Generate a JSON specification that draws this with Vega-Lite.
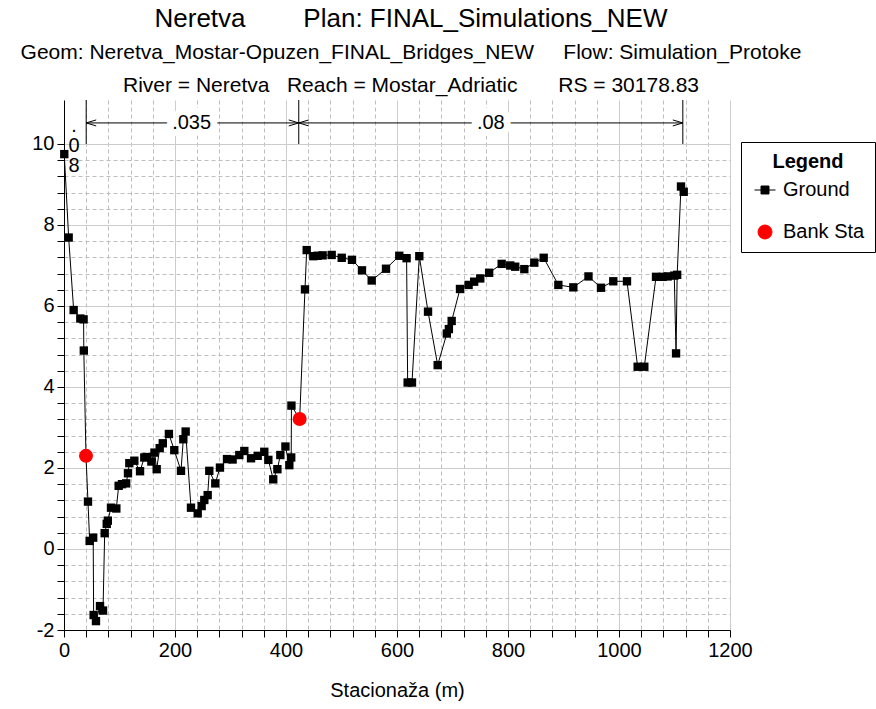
{
  "$schema": "https://vega.github.io/schema/vega-lite/v6.json",
  "padding": {"left": 20, "top": 5, "right": 5, "bottom": 5},
  "autosize": {"type": "pad"},
  "width": 666,
  "height": 530,
  "config": {"font": "Liberation Sans", "view": {"stroke": null}},
  "title": {
    "text": "Neretva\u00a0\u00a0\u00a0\u00a0\u00a0\u00a0\u00a0 Plan: FINAL_Simulations_NEW",
    "subtitle": [
      "Geom: Neretva_Mostar-Opuzen_FINAL_Bridges_NEW\u00a0\u00a0\u00a0\u00a0 Flow: Simulation_Protoke",
      "River = Neretva\u00a0\u00a0 Reach = Mostar_Adriatic\u00a0\u00a0\u00a0\u00a0\u00a0\u00a0 RS = 30178.83"
    ],
    "anchor": "middle",
    "font": "Liberation Sans",
    "subtitleFont": "Liberation Sans",
    "fontSize": 26,
    "fontWeight": "normal",
    "subtitleFontSize": 21,
    "subtitleLineHeight": 33,
    "subtitlePadding": 10,
    "offset": 4,
    "color": "black",
    "subtitleColor": "black",
    "dx": 14
  },
  "layer": [
    {
      "mark": {"type": "rect", "fill": "white", "stroke": null},
      "encoding": {
        "x": {"datum": 1.5, "type": "quantitative",
              "scale": {"domain": [0, 1200], "nice": false, "zero": false},
              "axis": {
                "values": [0,40,80,120,160,200,240,280,320,360,400,440,480,520,560,600,640,680,720,760,800,840,880,920,960,1000,1040,1080,1120,1160,1200],
                "tickCount": 1000,
                "labelExpr": "datum.value % 200 === 0 ? '' + datum.value : ''",
                "labelFlush": false, "labelOverlap": false,
                "grid": true,
                "gridColor": {"condition": {"test": "datum.value % 200 === 0", "value": "#cccccc"}, "value": "#bdbdbd"},
                "gridDash": {"condition": {"test": "datum.value % 200 === 0", "value": []}, "value": [4, 3]},
                "gridWidth": 1,
                "tickSize": 7,
                "tickColor": "black",
                "domainColor": "black",
                "labelFontSize": 20, "labelColor": "black", "labelPadding": 3,
                "title": "Stacionaža (m)", "titleFontSize": 20, "titleFontWeight": "normal", "titleColor": "black", "titlePadding": 20
              }},
        "x2": {"datum": 1200},
        "y": {"datum": 10, "type": "quantitative",
              "scale": {"domain": [-2, 11.086], "nice": false, "zero": false},
              "axis": {
                "values": [-2,-1.6,-1.2,-0.8,-0.4,0,0.4,0.8,1.2,1.6,2,2.4,2.8,3.2,3.6,4,4.4,4.8,5.2,5.6,6,6.4,6.8,7.2,7.6,8,8.4,8.8,9.2,9.6,10],
                "tickCount": 1000,
                "labelExpr": "abs(datum.value/2 - round(datum.value/2)) < 0.01 ? '' + datum.value : ''",
                "labelFlush": false, "labelOverlap": false,
                "grid": true,
                "gridColor": {"condition": {"test": "abs(datum.value/2 - round(datum.value/2)) < 0.01", "value": "#cccccc"}, "value": "#bdbdbd"},
                "gridDash": {"condition": {"test": "abs(datum.value/2 - round(datum.value/2)) < 0.01", "value": []}, "value": [4, 3]},
                "tickSize": 7,
                "tickColor": "black",
                "domainColor": "black",
                "labelFontSize": 20, "labelColor": "black", "labelPadding": 3,
                "title": null
              }},
        "y2": {"datum": 11.086}
      }
    },
    {
      "mark": {"type": "rule", "color": "#555555", "strokeWidth": 1},
      "encoding": {
        "x": {"datum": 0, "type": "quantitative"},
        "x2": {"datum": 1200},
        "y": {"datum": 10, "type": "quantitative"}
      }
    },
    {
      "mark": {"type": "rule", "color": "#555555", "strokeWidth": 1},
      "encoding": {
        "x": {"datum": 1200, "type": "quantitative"},
        "y": {"datum": -2, "type": "quantitative"},
        "y2": {"datum": 10}
      }
    },
    {
      "data": {"values": [{"s": 40}, {"s": 423}, {"s": 1115}]},
      "mark": {"type": "rule", "color": "black", "strokeWidth": 1},
      "encoding": {
        "x": {"field": "s", "type": "quantitative"},
        "y": {"datum": 10, "type": "quantitative"},
        "y2": {"datum": 11.086}
      }
    },
    {
      "data": {"values": [{"n": ".035", "a": 40, "b": 423, "m": 230}, {"n": ".08", "a": 423, "b": 1115, "m": 769}]},
      "layer": [
        {
          "mark": {"type": "rule", "color": "black", "strokeWidth": 1},
          "encoding": {
            "x": {"field": "a", "type": "quantitative"},
            "x2": {"field": "b"},
            "y": {"datum": 10.52, "type": "quantitative"}
          }
        },
        {
          "mark": {"type": "text", "fontSize": 20, "baseline": "middle", "stroke": "white", "strokeWidth": 14, "fill": "white"},
          "encoding": {
            "x": {"field": "m", "type": "quantitative"},
            "y": {"datum": 10.52, "type": "quantitative"},
            "text": {"field": "n"}
          }
        },
        {
          "mark": {"type": "text", "fontSize": 20, "baseline": "middle", "color": "black"},
          "encoding": {
            "x": {"field": "m", "type": "quantitative"},
            "y": {"datum": 10.52, "type": "quantitative"},
            "text": {"field": "n"}
          }
        }
      ]
    },
    {
      "data": {"values": [{"s": 40}, {"s": 423}]},
      "mark": {"type": "point", "shape": "M1,-0.3L0,0L1,0.3", "filled": false, "stroke": "black", "strokeWidth": 1, "size": 400, "opacity": 1},
      "encoding": {
        "x": {"field": "s", "type": "quantitative"},
        "y": {"datum": 10.52, "type": "quantitative"}
      }
    },
    {
      "data": {"values": [{"s": 423}, {"s": 1115}]},
      "mark": {"type": "point", "shape": "M-1,-0.3L0,0L-1,0.3", "filled": false, "stroke": "black", "strokeWidth": 1, "size": 400, "opacity": 1},
      "encoding": {
        "x": {"field": "s", "type": "quantitative"},
        "y": {"datum": 10.52, "type": "quantitative"}
      }
    },
    {
      "data": {"values": [{"x": 18, "n": ".08"}]},
      "mark": {"type": "text", "text": [".", "0", "8"], "fontSize": 20, "lineHeight": 20, "baseline": "middle", "color": "black"},
      "encoding": {
        "x": {"field": "x", "type": "quantitative"},
        "y": {"datum": 10.45, "type": "quantitative"}
      }
    },
    {
      "data": {"name": "ground", "values": [
        {"x": 0.5, "y": 9.75}, {"x": 8.4, "y": 7.69}, {"x": 17.4, "y": 5.90}, {"x": 29.4, "y": 5.69},
        {"x": 35.3, "y": 5.67}, {"x": 35.7, "y": 4.90}, {"x": 39.6, "y": 2.30}, {"x": 43.2, "y": 1.17},
        {"x": 46.2, "y": 0.20}, {"x": 52.6, "y": 0.28}, {"x": 53.4, "y": -1.63}, {"x": 57.6, "y": -1.78},
        {"x": 64.9, "y": -1.41}, {"x": 70.3, "y": -1.52}, {"x": 73.3, "y": 0.39}, {"x": 77.0, "y": 0.62},
        {"x": 79.0, "y": 0.70}, {"x": 84.7, "y": 1.02}, {"x": 94.3, "y": 1.00}, {"x": 98.5, "y": 1.56},
        {"x": 104.5, "y": 1.60}, {"x": 112.0, "y": 1.62}, {"x": 115.3, "y": 1.87}, {"x": 117.7, "y": 2.12},
        {"x": 126.7, "y": 2.18}, {"x": 137.0, "y": 1.92}, {"x": 144.7, "y": 2.26}, {"x": 149.5, "y": 2.27},
        {"x": 157.4, "y": 2.16}, {"x": 163.0, "y": 2.38}, {"x": 167.0, "y": 1.97}, {"x": 172.4, "y": 2.49},
        {"x": 178.0, "y": 2.61}, {"x": 189.0, "y": 2.84}, {"x": 198.7, "y": 2.44}, {"x": 210.8, "y": 1.93},
        {"x": 215.0, "y": 2.71}, {"x": 219.2, "y": 2.90}, {"x": 228.8, "y": 1.02}, {"x": 240.9, "y": 0.88},
        {"x": 248.0, "y": 1.06}, {"x": 252.8, "y": 1.21}, {"x": 258.9, "y": 1.33}, {"x": 261.8, "y": 1.93},
        {"x": 272.6, "y": 1.62}, {"x": 281.0, "y": 2.01}, {"x": 293.7, "y": 2.22}, {"x": 303.8, "y": 2.21},
        {"x": 315.9, "y": 2.32}, {"x": 324.9, "y": 2.42}, {"x": 337.0, "y": 2.24}, {"x": 349.0, "y": 2.30},
        {"x": 360.9, "y": 2.40}, {"x": 368.2, "y": 2.20}, {"x": 377.0, "y": 1.72}, {"x": 384.5, "y": 1.97},
        {"x": 389.8, "y": 2.32}, {"x": 399.0, "y": 2.53}, {"x": 406.0, "y": 2.07}, {"x": 409.4, "y": 2.26},
        {"x": 409.8, "y": 3.54}, {"x": 424.6, "y": 3.21}, {"x": 434.2, "y": 6.41}, {"x": 437.3, "y": 7.38},
        {"x": 449.2, "y": 7.23}, {"x": 457.0, "y": 7.24}, {"x": 466.0, "y": 7.25}, {"x": 482.3, "y": 7.26},
        {"x": 500.4, "y": 7.19}, {"x": 518.9, "y": 7.14}, {"x": 536.9, "y": 6.88}, {"x": 554.4, "y": 6.63},
        {"x": 580.2, "y": 6.92}, {"x": 604.1, "y": 7.24}, {"x": 617.3, "y": 7.18}, {"x": 619.2, "y": 4.11},
        {"x": 627.0, "y": 4.11}, {"x": 640.2, "y": 7.23}, {"x": 655.9, "y": 5.86}, {"x": 673.3, "y": 4.54},
        {"x": 689.8, "y": 5.32}, {"x": 693.5, "y": 5.43}, {"x": 698.5, "y": 5.63}, {"x": 713.5, "y": 6.42},
        {"x": 729.0, "y": 6.52}, {"x": 739.0, "y": 6.60}, {"x": 750.0, "y": 6.68}, {"x": 766.0, "y": 6.82},
        {"x": 788.6, "y": 7.04}, {"x": 804.0, "y": 7.00}, {"x": 813.0, "y": 6.97}, {"x": 829.4, "y": 6.91},
        {"x": 847.4, "y": 7.07}, {"x": 864.3, "y": 7.19}, {"x": 890.7, "y": 6.52}, {"x": 917.7, "y": 6.46},
        {"x": 945.0, "y": 6.73}, {"x": 967.6, "y": 6.45}, {"x": 989.7, "y": 6.61}, {"x": 1014.4, "y": 6.61},
        {"x": 1033.6, "y": 4.50}, {"x": 1045.6, "y": 4.50}, {"x": 1066.7, "y": 6.72}, {"x": 1078.7, "y": 6.72},
        {"x": 1087.7, "y": 6.73}, {"x": 1099.6, "y": 6.75}, {"x": 1102.8, "y": 4.83}, {"x": 1104.8, "y": 6.77},
        {"x": 1111.7, "y": 8.95}, {"x": 1116.6, "y": 8.82}
      ]},
      "layer": [
        {
          "mark": {"type": "line", "strokeWidth": 1},
          "encoding": {
            "x": {"field": "x", "type": "quantitative"},
            "y": {"field": "y", "type": "quantitative"},
            "color": {"datum": "Ground", "type": "nominal",
                      "scale": {"domain": ["Ground", "Bank Sta"], "range": ["black", "red"]},
                      "legend": {
                        "title": "Legend", "orient": "none", "legendX": 677, "legendY": 42,
                        "strokeColor": "black", "fillColor": "white", "padding": 10,
                        "titleFontSize": 20, "titleFontWeight": "bold", "titleColor": "black", "titleAnchor": "middle", "titlePadding": 8,
                        "labelFontSize": 20, "labelColor": "black", "labelOffset": 8,
                        "symbolSize": 196, "symbolOffset": 4, "symbolStrokeWidth": 1, "symbolOpacity": 1, "rowPadding": 22
                      }}
          }
        },
        {
          "mark": {"type": "point", "shape": "square", "filled": true, "size": 70, "color": "black", "opacity": 1},
          "encoding": {
            "x": {"field": "x", "type": "quantitative"},
            "y": {"field": "y", "type": "quantitative"}
          }
        }
      ]
    },
    {
      "data": {"values": [{"x": 39.6, "y": 2.30}, {"x": 424.6, "y": 3.21}]},
      "mark": {"type": "point", "filled": true, "size": 196, "opacity": 1},
      "encoding": {
        "x": {"field": "x", "type": "quantitative"},
        "y": {"field": "y", "type": "quantitative"},
        "color": {"datum": "Bank Sta", "type": "nominal"},
        "shape": {"datum": "Bank Sta", "type": "nominal",
                  "scale": {"domain": ["Ground", "Bank Sta"], "range": ["M-1.5,0L1.5,0M-0.57,-0.57L0.57,-0.57L0.57,0.57L-0.57,0.57Z", "circle"]},
                  "legend": {
                    "title": "Legend", "orient": "none", "legendX": 677, "legendY": 42,
                    "strokeColor": "black", "fillColor": "white", "padding": 10,
                    "titleFontSize": 20, "titleFontWeight": "bold", "titleColor": "black", "titleAnchor": "middle", "titlePadding": 8,
                    "labelFontSize": 20, "labelColor": "black", "labelOffset": 8,
                    "symbolSize": 196, "symbolOffset": 4, "symbolStrokeWidth": 1, "symbolOpacity": 1, "rowPadding": 22
                  }}
      }
    }
  ]
}
